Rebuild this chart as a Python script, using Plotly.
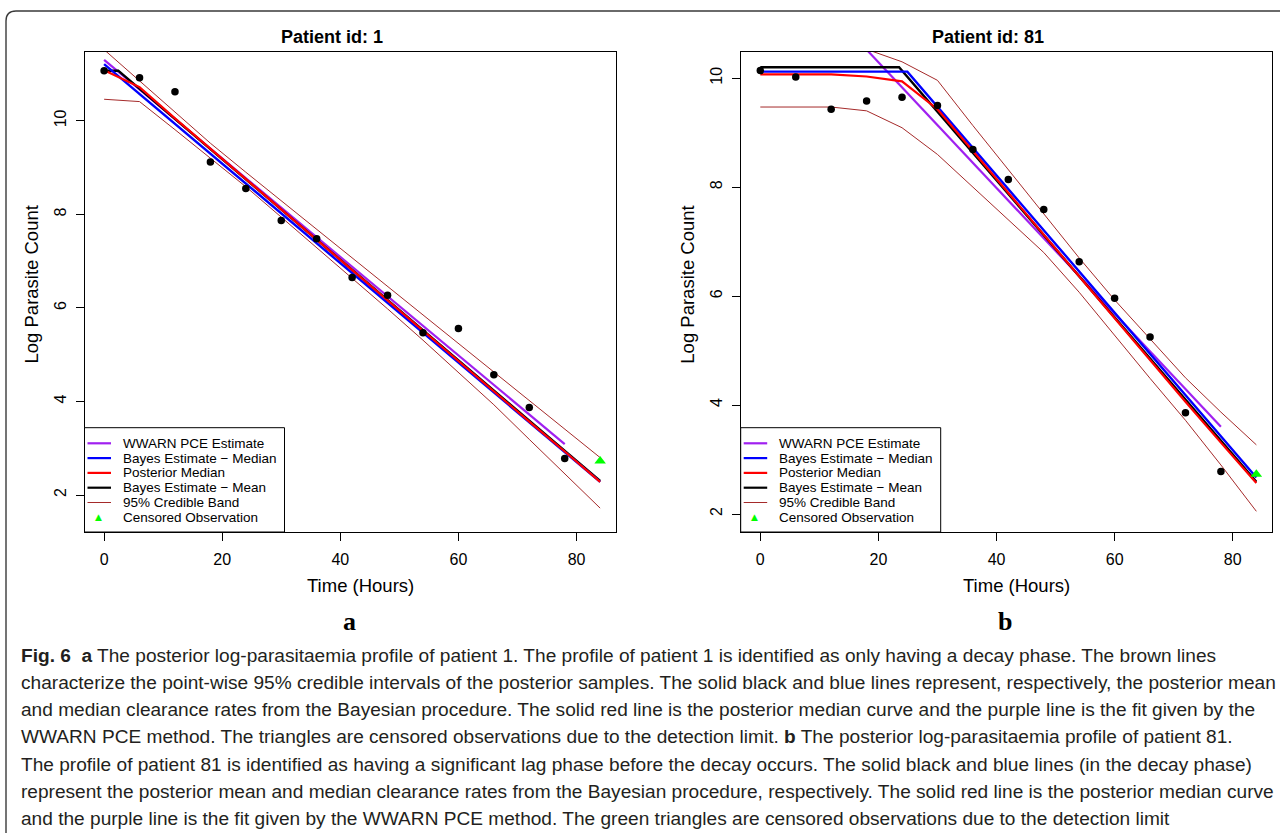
import plotly.graph_objects as go

W, H = 1280, 833

# ---------------- data ----------------
obs_time = [0, 6, 12, 18, 24, 30, 36, 42, 48, 54, 60, 66, 72, 78]
cens_time = [84]
grid_time = [0, 6, 12, 18, 24, 30, 36, 42, 48, 54, 60, 66, 72, 78, 84]

# Patient 1
p1_obs = [11.07, 10.92, 10.62, 9.12, 8.55, 7.87, 7.48, 6.65, 6.27, 5.47, 5.56, 4.57, 3.87, 2.78]
p1_cens = [2.73]
p1_wwarn_t = [0, 78]
p1_wwarn = [11.30, 3.09]
p1_bmed_t = [0, 84]
p1_bmed = [11.21, 2.28]
p1_bmean_t = [0, 2.4, 84]
p1_bmean = [11.07, 11.07, 2.30]
p1_postmed = [11.08, 10.72, 10.05, 9.40, 8.76, 8.11, 7.46, 6.81, 6.17, 5.52, 4.87, 4.22, 3.57, 2.93, 2.28]
p1_upper = [11.52, 10.86, 10.20, 9.52, 8.90, 8.29, 7.68, 7.07, 6.45, 5.84, 5.23, 4.62, 4.01, 3.40, 2.80]
p1_lower = [10.46, 10.41, 9.81, 9.21, 8.59, 7.94, 7.29, 6.64, 5.98, 5.31, 4.62, 3.93, 3.19, 2.45, 1.72]

# Patient 81
p81_obs = [10.14, 10.02, 9.43, 9.58, 9.65, 9.50, 8.69, 8.14, 7.59, 6.63, 5.96, 5.25, 3.86, 2.78]
p81_cens = [2.73]
p81_wwarn_t = [0, 78]
p81_wwarn = [12.60, 3.60]
p81_bmed_t = [0, 24.9, 84]
p81_bmed = [10.12, 10.12, 2.67]
p81_bmean_t = [0, 23.5, 84]
p81_bmean = [10.20, 10.20, 2.59]
p81_postmed = [10.07, 10.07, 10.07, 10.03, 9.94, 9.43, 8.66, 7.90, 7.13, 6.37, 5.60, 4.82, 4.06, 3.31, 2.57]
p81_upper = [10.60, 10.60, 10.58, 10.53, 10.30, 9.96, 9.13, 8.32, 7.50, 6.70, 5.93, 5.21, 4.50, 3.87, 3.27]
p81_lower = [9.47, 9.47, 9.47, 9.40, 9.09, 8.60, 8.00, 7.40, 6.80, 6.07, 5.27, 4.49, 3.72, 2.90, 2.05]

x_ticks = [0, 20, 40, 60, 80]
y_ticks = [2, 4, 6, 8, 10]
x_range = [-3.32, 86.6]
p1_yrange = [1.21, 11.47]
p81_yrange = [1.67, 10.48]

titles = ["Patient id: 1", "Patient id: 81"]
legend_labels = ["WWARN PCE Estimate", "Bayes Estimate \u2212 Median", "Posterior Median",
                 "Bayes Estimate \u2212 Mean", "95% Credible Band", "Censored Observation"]
legend_colors = ["#A020F0", "#0000FF", "#FF0000", "#000000", "#A52A2A", "#00FF00"]
legend_widths = [2.2, 2.2, 2.2, 2.2, 1, 0]

caption_lines = [
    "<b>Fig. 6  a</b> The posterior log-parasitaemia profile of patient 1. The profile of patient 1 is identified as only having a decay phase. The brown lines",
    "characterize the point-wise 95% credible intervals of the posterior samples. The solid black and blue lines represent, respectively, the posterior mean",
    "and median clearance rates from the Bayesian procedure. The solid red line is the posterior median curve and the purple line is the fit given by the",
    "WWARN PCE method. The triangles are censored observations due to the detection limit. <b>b</b> The posterior log-parasitaemia profile of patient 81.",
    "The profile of patient 81 is identified as having a significant lag phase before the decay occurs. The solid black and blue lines (in the decay phase)",
    "represent the posterior mean and median clearance rates from the Bayesian procedure, respectively. The solid red line is the posterior median curve",
    "and the purple line is the fit given by the WWARN PCE method. The green triangles are censored observations due to the detection limit",
]

PURPLE, BLUE, RED, BLACK, BROWN, GREEN = legend_colors

def fx(x):
    return x / W

def fy(y):
    return 1 - y / H

SANS = "Liberation Sans, Arial, Helvetica, sans-serif"

fig = go.Figure()

panels = [
    dict(xa="x", ya="y", obs=p1_obs, cens=p1_cens, ww_t=p1_wwarn_t, ww=p1_wwarn,
         bmed_t=p1_bmed_t, bmed=p1_bmed, bmean_t=p1_bmean_t, bmean=p1_bmean,
         pm=p1_postmed, up=p1_upper, lo=p1_lower),
    dict(xa="x2", ya="y2", obs=p81_obs, cens=p81_cens, ww_t=p81_wwarn_t, ww=p81_wwarn,
         bmed_t=p81_bmed_t, bmed=p81_bmed, bmean_t=p81_bmean_t, bmean=p81_bmean,
         pm=p81_postmed, up=p81_upper, lo=p81_lower),
]

for p in panels:
    common = dict(xaxis=p["xa"], yaxis=p["ya"], showlegend=False, hoverinfo="skip")
    fig.add_trace(go.Scatter(x=grid_time, y=p["up"], mode="lines", line=dict(color=BROWN, width=1), **common))
    fig.add_trace(go.Scatter(x=grid_time, y=p["lo"], mode="lines", line=dict(color=BROWN, width=1), **common))
    fig.add_trace(go.Scatter(x=p["ww_t"], y=p["ww"], mode="lines", line=dict(color=PURPLE, width=2.2), **common))
    fig.add_trace(go.Scatter(x=p["bmean_t"], y=p["bmean"], mode="lines", line=dict(color=BLACK, width=2.4), **common))
    fig.add_trace(go.Scatter(x=p["bmed_t"], y=p["bmed"], mode="lines", line=dict(color=BLUE, width=2.4), **common))
    fig.add_trace(go.Scatter(x=grid_time, y=p["pm"], mode="lines", line=dict(color=RED, width=2.2), **common))
    fig.add_trace(go.Scatter(x=obs_time, y=p["obs"], mode="markers",
                             marker=dict(color=BLACK, size=7.5, line=dict(width=0)), **common))
    fig.add_trace(go.Scatter(x=cens_time, y=p["cens"], mode="markers",
                             marker=dict(color=GREEN, size=10, symbol="triangle-up", line=dict(width=0)), **common))

# panel boxes (pixels)
box_left = [84.5, 740.7]
box_w = 531.0
box_top, box_bot = 52.0, 532.0

axis_common = dict(showgrid=False, zeroline=False, showline=True, mirror=True, linecolor="black",
                   linewidth=1, ticks="outside", ticklen=8, tickwidth=1, tickcolor="black",
                   tickfont=dict(family=SANS, size=16, color="black"))

layout_axes = {}
for i, (bl, yr) in enumerate(zip(box_left, [p1_yrange, p81_yrange])):
    sfx = "" if i == 0 else "2"
    layout_axes["xaxis" + sfx] = dict(domain=[fx(bl), fx(bl + box_w)], range=x_range, tickvals=x_ticks,
                                      anchor="y" + sfx, ticklabelstandoff=5, **axis_common)
    layout_axes["yaxis" + sfx] = dict(domain=[fy(box_bot), fy(box_top)], range=yr, tickvals=y_ticks,
                                      anchor="x" + sfx, tickangle=-90, ticklabelstandoff=3, **axis_common)

annotations = []
shapes = []

title_x = [332, 988]
xlab_x = [360, 1016]
ylab_x = [30.5, 686.7]
panel_lab_x = [349, 1005]
for i in range(2):
    annotations.append(dict(x=fx(title_x[i]), y=fy(37), xref="paper", yref="paper", text="<b>" + titles[i] + "</b>",
                            showarrow=False, xanchor="center", yanchor="middle",
                            font=dict(family=SANS, size=18, color="black")))
    annotations.append(dict(x=fx(xlab_x[i]), y=fy(585), xref="paper", yref="paper", text="Time (Hours)",
                            showarrow=False, xanchor="center", yanchor="middle",
                            font=dict(family=SANS, size=18.5, color="black")))
    annotations.append(dict(x=fx(ylab_x[i]), y=fy(285), xref="paper", yref="paper", text="Log Parasite Count",
                            showarrow=False, xanchor="center", yanchor="middle", textangle=-90,
                            font=dict(family=SANS, size=18.5, color="black")))
    annotations.append(dict(x=fx(panel_lab_x[i]), y=fy(621), xref="paper", yref="paper",
                            text="<b>" + "ab"[i] + "</b>",
                            showarrow=False, xanchor="center", yanchor="middle",
                            font=dict(family="Liberation Serif, Times New Roman, serif", size=26, color="black")))

    # legend box
    lx0 = box_left[i]
    lx1 = lx0 + 200
    shapes.append(dict(type="rect", xref="paper", yref="paper", x0=fx(lx0), x1=fx(lx1), y0=fy(box_bot), y1=fy(427.7),
                       line=dict(color="black", width=1), fillcolor="white", layer="above"))
    row_y = [443.3 + 14.8 * k for k in range(6)]
    for k, (lab, col, lw) in enumerate(zip(legend_labels, legend_colors, legend_widths)):
        if lw > 0:
            shapes.append(dict(type="line", xref="paper", yref="paper", x0=fx(lx0 + 3), x1=fx(lx0 + 26.5),
                               y0=fy(row_y[k]), y1=fy(row_y[k]), line=dict(color=col, width=lw), layer="above"))
        else:
            annotations.append(dict(x=fx(lx0 + 14.2), y=fy(row_y[k]), xref="paper", yref="paper", text="\u25B2",
                                    showarrow=False, xanchor="center", yanchor="middle",
                                    font=dict(family="DejaVu Sans", size=9, color=col)))
        annotations.append(dict(x=fx(lx0 + 36.3), y=fy(row_y[k]), xref="paper", yref="paper", text=lab,
                                showarrow=False, xanchor="left", yanchor="middle",
                                font=dict(family=SANS, size=13.5, color="black")))

# caption
cap_y = [655, 682.3, 709.6, 736.9, 764.2, 791.5, 818.8]
for line, yy in zip(caption_lines, cap_y):
    annotations.append(dict(x=fx(19), y=fy(yy), xref="paper", yref="paper", text=line, showarrow=False,
                            xanchor="left", yanchor="middle",
                            font=dict(family=SANS, size=19.1, color="#231F20")))

# card border (rounded top-left corner)
r = 10
path = (f"M {fx(6)},{fy(840)} L {fx(6)},{fy(11 + r)} Q {fx(6)},{fy(11)} {fx(6 + r)},{fy(11)} L {fx(1290)},{fy(11)}")
shapes.append(dict(type="path", xref="paper", yref="paper", path=path, line=dict(color="#3a3a3a", width=1.4)))

fig.update_layout(
    width=W, height=H, margin=dict(l=0, r=0, t=0, b=0),
    paper_bgcolor="white", plot_bgcolor="white",
    showlegend=False, annotations=annotations, shapes=shapes, **layout_axes,
)

fig.write_html("out.html", config={"displayModeBar": False})
